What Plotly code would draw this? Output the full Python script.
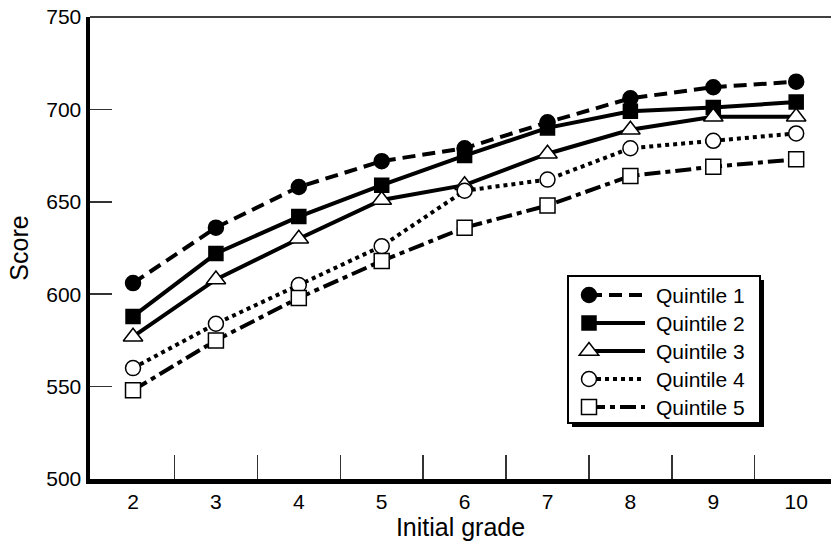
import plotly.graph_objects as go

grades = [2, 3, 4, 5, 6, 7, 8, 9, 10]
quintile_1 = [606, 636, 658, 672, 679, 693, 706, 712, 715]
quintile_2 = [588, 622, 642, 659, 675, 690, 699, 701, 704]
quintile_3 = [577, 608, 630, 651, 659, 676, 689, 696, 696]
quintile_4 = [560, 584, 605, 626, 656, 662, 679, 683, 687]
quintile_5 = [548, 575, 598, 618, 636, 648, 664, 669, 673]
series_names = ["Quintile 1", "Quintile 2", "Quintile 3", "Quintile 4", "Quintile 5"]
y_ticks = [500, 550, 600, 650, 700, 750]
between_ticks = [2.5, 3.5, 4.5, 5.5, 6.5, 7.5, 8.5, 9.5]

FONT = "Liberation Sans, Arial, Helvetica, sans-serif"
FS = 21
W, H = 831, 541
ML, MR, MT, MB = 90, 0, 17, 62
pw = W - ML - MR
ph = H - MT - MB

styles = [
    dict(dash="13px,7px", symbol="circle", size=15, fill="black"),
    dict(dash="solid", symbol="square", size=14, fill="black"),
    dict(dash="solid", symbol="triangle-up", size=17, fill="white"),
    dict(dash="4px,4px", symbol="circle", size=15, fill="white"),
    dict(dash="16px,5px,5px,5px", symbol="square", size=15, fill="white"),
]
all_series = [quintile_1, quintile_2, quintile_3, quintile_4, quintile_5]

fig = go.Figure()
for name, vals, st in zip(series_names, all_series, styles):
    fig.add_trace(go.Scatter(
        x=grades, y=vals, name=name, mode="lines+markers",
        line=dict(color="black", width=4, dash=st["dash"]),
        marker=dict(symbol=st["symbol"], size=st["size"], color=st["fill"],
                    line=dict(color="black", width=1.5)),
        cliponaxis=False, showlegend=False,
    ))


def px_x(wx):
    """window pixel x -> paper fraction"""
    return (wx - ML) / pw


def px_y(wy):
    """window pixel y -> paper fraction"""
    return (H - MB - wy) / ph


shapes = [
    dict(type="line", xref="paper", yref="paper", x0=0, x1=1, y0=1, y1=1,
         line=dict(color="black", width=1.5)),
]
annotations = []

# custom legend box (pixel layout)
leg_l, leg_t, leg_r, leg_b = 568, 276, 760, 423
row_y0, row_dy = 295, 28
mark_x, line_x1, text_x = 589, 645, 654
shapes.append(dict(type="rect", xref="paper", yref="paper",
                   x0=px_x(leg_l + 4), x1=px_x(leg_r + 4),
                   y0=px_y(leg_b + 4), y1=px_y(leg_t + 4),
                   fillcolor="black", line=dict(width=0), layer="above"))
shapes.append(dict(type="rect", xref="paper", yref="paper",
                   x0=px_x(leg_l), x1=px_x(leg_r), y0=px_y(leg_b), y1=px_y(leg_t),
                   fillcolor="white", line=dict(color="black", width=2), layer="above"))

for i, (name, st) in enumerate(zip(series_names, styles)):
    ry = row_y0 + i * row_dy
    shapes.append(dict(type="line", xref="paper", yref="paper",
                       x0=px_x(mark_x), x1=px_x(line_x1), y0=px_y(ry), y1=px_y(ry),
                       line=dict(color="black", width=4, dash=st["dash"]), layer="above"))
    s = st["size"] / 2.0
    common = dict(xref="paper", yref="paper", xsizemode="pixel", ysizemode="pixel",
                  xanchor=px_x(mark_x), yanchor=px_y(ry),
                  fillcolor=st["fill"], line=dict(color="black", width=1.5), layer="above")
    if st["symbol"] == "circle":
        shapes.append(dict(type="circle", x0=-s, x1=s, y0=-s, y1=s, **common))
    elif st["symbol"] == "square":
        shapes.append(dict(type="rect", x0=-s, x1=s, y0=-s, y1=s, **common))
    else:
        r = s
        rt = r * 2 / 3 ** 0.5
        path = f"M{-rt:.2f},{-r/2:.2f} L{rt:.2f},{-r/2:.2f} L0,{r:.2f} Z"
        shapes.append(dict(type="path", path=path, **common))
    annotations.append(dict(xref="paper", yref="paper", x=px_x(text_x), y=px_y(ry),
                            xanchor="left", yanchor="middle", showarrow=False,
                            text=name, font=dict(family=FONT, size=FS, color="black")))

fig.update_layout(
    width=W, height=H,
    margin=dict(l=ML, r=MR, t=MT, b=MB, pad=0, autoexpand=False),
    paper_bgcolor="white", plot_bgcolor="white",
    font=dict(family=FONT, size=FS, color="black"),
    showlegend=False,
    xaxis=dict(
        range=[1.481, 10.42], tickmode="array", tickvals=grades,
        ticktext=[str(g) for g in grades], ticks="", showgrid=False,
        zeroline=False, showline=True, linecolor="black", linewidth=4.5,
        title=dict(text="Initial grade", standoff=8), automargin=False,
        minor=dict(tickmode="array", tickvals=between_ticks, ticks="inside",
                   ticklen=24, tickwidth=1.5, tickcolor="#333", showgrid=False),
        fixedrange=True,
    ),
    yaxis=dict(
        range=[500, 750], tickmode="array", tickvals=y_ticks,
        ticks="inside", ticklen=22, tickwidth=1.5, tickcolor="#333",
        showgrid=False, zeroline=False, showline=True, linecolor="black",
        linewidth=4.5, title=dict(text="Score", standoff=12), automargin=False,
        ticklabeloverflow="allow",
        fixedrange=True,
    ),
    shapes=shapes,
    annotations=annotations,
)

# remove the browser's default page margin so the figure fills the window exactly
fig.write_html("out.html",
               config={"displayModeBar": False, "staticPlot": True},
               post_script="document.body.style.margin='0px';document.body.style.overflow='hidden';")
